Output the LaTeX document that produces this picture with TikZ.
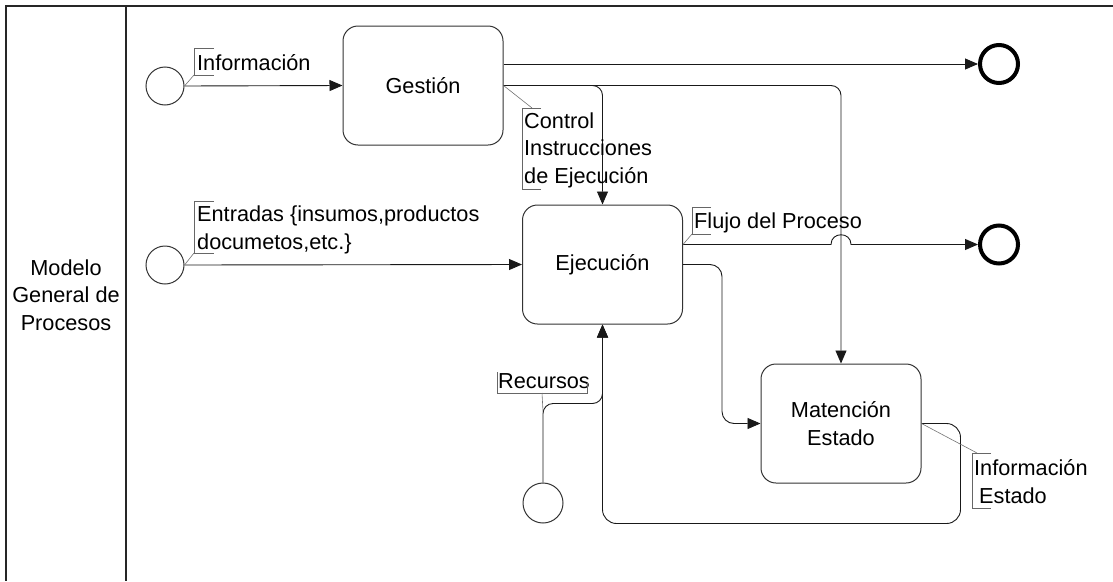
\documentclass[tikz,border=0pt]{standalone}
\usepackage{fontspec}
\setmainfont{Liberation Sans}
\usetikzlibrary{arrows.meta,calc}
\begin{document}
\begin{tikzpicture}[x=1pt,y=-1pt,
  every node/.style={font=\fontsize{21.7}{27.5}\selectfont},
  task/.style={draw=black!80, line width=1pt, rounded corners=15pt,
    minimum width=160pt, minimum height=119pt, align=center, inner sep=0pt},
  startev/.style={draw=black!80, line width=1pt, circle, minimum size=38pt, inner sep=0pt},
  endev/.style={draw=black, line width=4pt, circle, minimum size=38pt, inner sep=0pt},
  flow/.style={draw=black!90, line width=0.9pt, -{Triangle[length=13pt,width=11pt]}},
  lbl/.style={anchor=west, align=left, inner sep=0pt},
  brk/.style={draw=black!60, line width=0.8pt},
  lead/.style={draw=black!55, line width=0.6pt},
  lane/.style={draw=black!85, line width=1.8pt}]

\useasboundingbox (0,0) rectangle (1113,581);

% pool and lane header
\draw[lane] (1113,6) -- (6,6) -- (6,581);
\draw[lane] (126,6) -- (126,581);
\node[align=center] (lanename) at (66,295) {Modelo\\General de\\Procesos};

% events
\node[startev] (startinfo) at (165,86) {};
\node[startev] (startin)   at (165,265) {};
\node[startev, minimum size=40pt] (startres) at (543,503) {};
\node[endev] (endA) at (999,64) {};
\node[endev] (endB) at (999,244.5) {};

% tasks
\node[task] (gest) at (423,85.5) {Gestión};
\node[task] (ejec) at (602.5,264.5) {Ejecución};
\node[task] (mant) at (841,423.5) {Matención\\Estado};

% helper points on the connectors
\coordinate (fl0)   at ($(ejec.east)+(0,-20)$);
\coordinate (hopL)  at ($(mant.north |- fl0)+(-10,0)$);
\coordinate (hopR)  at ($(mant.north |- fl0)+(10,0)$);
\coordinate (recb)  at ($(ejec.south)+(0,79)$);
\coordinate (loopb) at ($(ejec.south)+(0,199)$);

% sequence flows
\draw[flow] (startinfo.east) -- (gest.west);
\draw[flow] (startin.east) -- (ejec.west);
\draw[flow] (gest.east |- endA) -- (endA);
\draw[flow, rounded corners=10pt] (gest.east) -| (mant.north);
\draw[flow, rounded corners=10pt] (gest.east) -| (ejec.north);
\draw[flow] (fl0) -- (hopL) .. controls ($(hopL)+(0,-13)$) and ($(hopR)+(0,-13)$) .. (hopR) -- (endB);
\draw[flow, rounded corners=12pt] (ejec.east) -- ++(39,0) |- (mant.west);
\draw[flow, rounded corners=10pt] (startres.north) |- (recb) -- (ejec.south);
\draw[flow, rounded corners=14pt] (mant.east) -- ++(39,0) |- (loopb) -- (ejec.south);

% annotations
\node[lbl] (tinfo) at (197,63) {Información};
\draw[brk] (214,48) -- (194,48) -- (194,75) coordinate (binfo) -- (214,75);
\draw[lead] (startinfo.east) -- (binfo);

\node[lbl] (tin) at (197,230) {Entradas \{insumos,productos\\documetos,etc.\}};
\draw[brk] (214,201) -- (194,201) -- (194,253) coordinate (bin) -- (214,253);
\draw[lead] (startin.east) -- (bin);

\node[lbl] (tctl) at (524,150) {Control\\Instrucciones\\de Ejecución};
\draw[brk] (541,108) -- (522,108) -- (522,189) -- (541,189);
\coordinate (bctl) at (532,108);
\draw[lead] (gest.east) -- (bctl);

\node[lbl] (tflujo) at (694,223) {Flujo del Proceso};
\draw[brk] (711,207) -- (692,207) -- (692,234) coordinate (bflujo) -- (711,234);
\draw[lead] (fl0) -- (bflujo);

\node[lbl] (trec) at (498,381) {Recursos};
\draw[brk] (497,372) -- (497,393) -- (587,393) -- (587,383);
\coordinate (brec) at (542,393);
\draw[lead] (brec) -- ($(startres.north)+(0,-71)$);

\node[lbl] (test) at (974,481.5) {Información\\\hspace{5pt}Estado};
\draw[brk] (991,453) -- (972,453) -- (972,508) -- (991,508);
\coordinate (best) at (977,453);
\draw[lead] (mant.east) -- (best);
\end{tikzpicture}
\end{document}
